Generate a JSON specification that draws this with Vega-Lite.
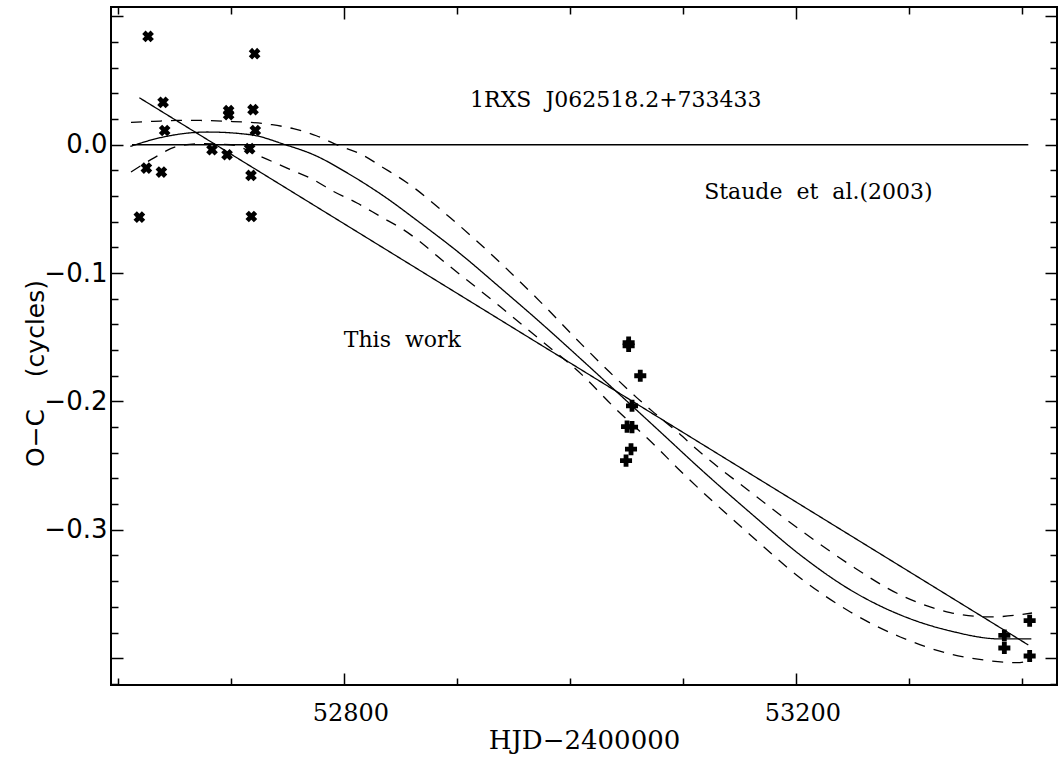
{
  "$schema": "https://vega.github.io/schema/vega-lite/v6.json",
  "width": 946,
  "height": 678,
  "autosize": {"type": "none"},
  "padding": {"left": 111, "top": 7, "right": 1, "bottom": 81},
  "background": "white",
  "config": {
    "view": {"stroke": "black", "strokeWidth": 2},
    "axis": {"domain": false, "grid": false, "tickColor": "black", "tickWidth": 1.5, "labelColor": "black", "titleColor": "black"}
  },
  "datasets": {
    "curves": [
      {"series": "zero", "style": "solid", "hjd": 52612.1, "oc": 0.0},
      {"series": "zero", "style": "solid", "hjd": 53405.3, "oc": 0.0},
      {"series": "linear", "style": "solid", "hjd": 52618.6, "oc": 0.0366},
      {"series": "linear", "style": "solid", "hjd": 53405.3, "oc": -0.3897},
      {"series": "quad", "style": "solid", "hjd": 52610.6, "oc": -0.0013},
      {"series": "quad", "style": "solid", "hjd": 52637.2, "oc": 0.0055},
      {"series": "quad", "style": "solid", "hjd": 52678.8, "oc": 0.0099},
      {"series": "quad", "style": "solid", "hjd": 52716.8, "oc": 0.0078},
      {"series": "quad", "style": "solid", "hjd": 52747.8, "oc": 0.0},
      {"series": "quad", "style": "solid", "hjd": 52772.8, "oc": -0.0078},
      {"series": "quad", "style": "solid", "hjd": 52805.3, "oc": -0.0234},
      {"series": "quad", "style": "solid", "hjd": 52834.5, "oc": -0.0398},
      {"series": "quad", "style": "solid", "hjd": 52867.3, "oc": -0.0610},
      {"series": "quad", "style": "solid", "hjd": 52902.7, "oc": -0.0850},
      {"series": "quad", "style": "solid", "hjd": 52938.1, "oc": -0.1115},
      {"series": "quad", "style": "solid", "hjd": 52973.5, "oc": -0.1385},
      {"series": "quad", "style": "solid", "hjd": 53008.8, "oc": -0.1665},
      {"series": "quad", "style": "solid", "hjd": 53039.8, "oc": -0.1915},
      {"series": "quad", "style": "solid", "hjd": 53079.6, "oc": -0.2237},
      {"series": "quad", "style": "solid", "hjd": 53115.0, "oc": -0.2525},
      {"series": "quad", "style": "solid", "hjd": 53159.3, "oc": -0.2868},
      {"series": "quad", "style": "solid", "hjd": 53203.5, "oc": -0.3196},
      {"series": "quad", "style": "solid", "hjd": 53247.8, "oc": -0.3468},
      {"series": "quad", "style": "solid", "hjd": 53292.0, "oc": -0.3663},
      {"series": "quad", "style": "solid", "hjd": 53336.3, "oc": -0.3788},
      {"series": "quad", "style": "solid", "hjd": 53380.5, "oc": -0.3850},
      {"series": "quad", "style": "solid", "hjd": 53408.0, "oc": -0.3850},
      {"series": "upper", "style": "dashed", "hjd": 52611.2, "oc": 0.0174},
      {"series": "upper", "style": "dashed", "hjd": 52631.0, "oc": 0.0182},
      {"series": "upper", "style": "dashed", "hjd": 52651.9, "oc": 0.0189},
      {"series": "upper", "style": "dashed", "hjd": 52672.6, "oc": 0.0189},
      {"series": "upper", "style": "dashed", "hjd": 52697.3, "oc": 0.0182},
      {"series": "upper", "style": "dashed", "hjd": 52716.8, "oc": 0.0174},
      {"series": "upper", "style": "dashed", "hjd": 52736.0, "oc": 0.0156},
      {"series": "upper", "style": "dashed", "hjd": 52754.9, "oc": 0.0125},
      {"series": "upper", "style": "dashed", "hjd": 52775.2, "oc": 0.0070},
      {"series": "upper", "style": "dashed", "hjd": 52794.7, "oc": -0.0005},
      {"series": "upper", "style": "dashed", "hjd": 52815.7, "oc": -0.0078},
      {"series": "upper", "style": "dashed", "hjd": 52834.5, "oc": -0.0179},
      {"series": "upper", "style": "dashed", "hjd": 52855.5, "oc": -0.0296},
      {"series": "upper", "style": "dashed", "hjd": 52893.8, "oc": -0.0569},
      {"series": "upper", "style": "dashed", "hjd": 52938.1, "oc": -0.0920},
      {"series": "upper", "style": "dashed", "hjd": 52973.5, "oc": -0.1224},
      {"series": "upper", "style": "dashed", "hjd": 53010.4, "oc": -0.1559},
      {"series": "upper", "style": "dashed", "hjd": 53034.5, "oc": -0.1769},
      {"series": "upper", "style": "dashed", "hjd": 53059.0, "oc": -0.1972},
      {"series": "upper", "style": "dashed", "hjd": 53074.3, "oc": -0.2089},
      {"series": "upper", "style": "dashed", "hjd": 53094.7, "oc": -0.2237},
      {"series": "upper", "style": "dashed", "hjd": 53112.4, "oc": -0.2377},
      {"series": "upper", "style": "dashed", "hjd": 53159.3, "oc": -0.2705},
      {"series": "upper", "style": "dashed", "hjd": 53203.5, "oc": -0.3001},
      {"series": "upper", "style": "dashed", "hjd": 53247.8, "oc": -0.3274},
      {"series": "upper", "style": "dashed", "hjd": 53292.0, "oc": -0.3507},
      {"series": "upper", "style": "dashed", "hjd": 53336.3, "oc": -0.3645},
      {"series": "upper", "style": "dashed", "hjd": 53371.7, "oc": -0.3679},
      {"series": "upper", "style": "dashed", "hjd": 53408.6, "oc": -0.3648},
      {"series": "lower", "style": "dashed", "hjd": 52611.2, "oc": -0.0213},
      {"series": "lower", "style": "dashed", "hjd": 52631.2, "oc": -0.0104},
      {"series": "lower", "style": "dashed", "hjd": 52651.9, "oc": -0.0013},
      {"series": "lower", "style": "dashed", "hjd": 52672.6, "oc": 0.0008},
      {"series": "lower", "style": "dashed", "hjd": 52699.1, "oc": 0.0},
      {"series": "lower", "style": "dashed", "hjd": 52725.7, "oc": -0.0091},
      {"series": "lower", "style": "dashed", "hjd": 52749.3, "oc": -0.0182},
      {"series": "lower", "style": "dashed", "hjd": 52772.8, "oc": -0.0273},
      {"series": "lower", "style": "dashed", "hjd": 52790.5, "oc": -0.0364},
      {"series": "lower", "style": "dashed", "hjd": 52811.2, "oc": -0.0454},
      {"series": "lower", "style": "dashed", "hjd": 52831.9, "oc": -0.0559},
      {"series": "lower", "style": "dashed", "hjd": 52852.5, "oc": -0.0663},
      {"series": "lower", "style": "dashed", "hjd": 52893.8, "oc": -0.0951},
      {"series": "lower", "style": "dashed", "hjd": 52938.1, "oc": -0.1263},
      {"series": "lower", "style": "dashed", "hjd": 52973.5, "oc": -0.1520},
      {"series": "lower", "style": "dashed", "hjd": 53010.4, "oc": -0.1793},
      {"series": "lower", "style": "dashed", "hjd": 53038.1, "oc": -0.2040},
      {"series": "lower", "style": "dashed", "hjd": 53075.2, "oc": -0.2346},
      {"series": "lower", "style": "dashed", "hjd": 53094.7, "oc": -0.2518},
      {"series": "lower", "style": "dashed", "hjd": 53159.3, "oc": -0.3040},
      {"series": "lower", "style": "dashed", "hjd": 53203.5, "oc": -0.3375},
      {"series": "lower", "style": "dashed", "hjd": 53247.8, "oc": -0.3640},
      {"series": "lower", "style": "dashed", "hjd": 53292.0, "oc": -0.3835},
      {"series": "lower", "style": "dashed", "hjd": 53336.3, "oc": -0.3967},
      {"series": "lower", "style": "dashed", "hjd": 53365.5, "oc": -0.4014},
      {"series": "lower", "style": "dashed", "hjd": 53395.3, "oc": -0.4035},
      {"series": "lower", "style": "dashed", "hjd": 53408.6, "oc": -0.4014}
    ],
    "staude": [
      {"hjd": 52626.3, "oc": 0.0844},
      {"hjd": 52720.6, "oc": 0.0709},
      {"hjd": 52639.6, "oc": 0.0330},
      {"hjd": 52697.6, "oc": 0.0265},
      {"hjd": 52697.6, "oc": 0.0234},
      {"hjd": 52719.2, "oc": 0.0273},
      {"hjd": 52641.0, "oc": 0.0111},
      {"hjd": 52721.2, "oc": 0.0111},
      {"hjd": 52682.9, "oc": -0.0039},
      {"hjd": 52696.2, "oc": -0.0078},
      {"hjd": 52716.2, "oc": -0.0031},
      {"hjd": 52624.8, "oc": -0.0182},
      {"hjd": 52638.1, "oc": -0.0213},
      {"hjd": 52717.4, "oc": -0.0239},
      {"hjd": 52618.6, "oc": -0.0564},
      {"hjd": 52717.7, "oc": -0.0559}
    ],
    "thiswork": [
      {"hjd": 53051.6, "oc": -0.1541},
      {"hjd": 53051.6, "oc": -0.1567},
      {"hjd": 53061.9, "oc": -0.1800},
      {"hjd": 53054.6, "oc": -0.2034},
      {"hjd": 53050.2, "oc": -0.2196},
      {"hjd": 53054.6, "oc": -0.2200},
      {"hjd": 53053.7, "oc": -0.2372},
      {"hjd": 53049.3, "oc": -0.2461},
      {"hjd": 53406.5, "oc": -0.3708},
      {"hjd": 53384.1, "oc": -0.3823},
      {"hjd": 53384.1, "oc": -0.3921},
      {"hjd": 53406.5, "oc": -0.3983}
    ],
    "labels": [
      {"hjd": 53040.3, "oc": 0.0351, "text": "1RXS\u00a0\u00a0J062518.2+733433", "size": 22},
      {"hjd": 53219.5, "oc": -0.0366, "text": "Staude\u00a0\u00a0et\u00a0\u00a0al.(2003)", "size": 22},
      {"hjd": 52851.3, "oc": -0.1520, "text": "This\u00a0\u00a0work", "size": 22}
    ]
  },
  "resolve": {"axis": {"x": "independent", "y": "independent"}},
  "layer": [
    {
      "data": {"name": "curves"},
      "mark": {"type": "line", "color": "black", "strokeWidth": 1.3, "interpolate": "monotone", "clip": true},
      "encoding": {
        "x": {
          "field": "hjd", "type": "quantitative",
          "scale": {"domain": [52593.5, 53430.7], "nice": false, "zero": false},
          "axis": {
            "orient": "bottom",
            "values": [52600, 52700, 52800, 52900, 53000, 53100, 53200, 53300, 53400],
            "tickSize": {"condition": {"test": "datum.value % 400 === 0", "value": -12}, "value": -7},
            "labelExpr": "datum.value % 400 === 0 ? datum.label : ''",
            "format": "d",
            "labelFont": "DejaVu Serif", "labelFontSize": 24, "labelPadding": 28, "labelOffset": 6,
            "title": "HJD−2400000", "titleFont": "DejaVu Serif", "titleFontSize": 26, "titleFontWeight": "normal",
            "titleY": 55, "titleBaseline": "middle"
          }
        },
        "y": {
          "field": "oc", "type": "quantitative",
          "scale": {"domain": [-0.4209, 0.1073], "nice": false, "zero": false},
          "axis": {
            "orient": "left",
            "values": [0.1, 0.08, 0.06, 0.04, 0.02, 0.0, -0.02, -0.04, -0.06, -0.08, -0.1, -0.12, -0.14, -0.16, -0.18, -0.2, -0.22, -0.24, -0.26, -0.28, -0.3, -0.32, -0.34, -0.36, -0.38, -0.4, -0.42],
            "tickSize": {"condition": {"test": "abs(datum.value * 10 - round(datum.value * 10)) < 0.001", "value": -12}, "value": -7},
            "labelExpr": "abs(datum.value * 10 - round(datum.value * 10)) < 0.001 && datum.value < 0.05 && datum.value > -0.35 ? datum.label : ''",
            "format": ".1f",
            "labelFont": "DejaVu Sans", "labelFontSize": 26, "labelPadding": 16,
            "title": "O−C\u00a0\u00a0\u00a0\u00a0(cycles)", "titleFont": "DejaVu Sans", "titleFontSize": 25, "titleFontWeight": "normal",
            "titleX": -76, "titleY": 366, "titleBaseline": "middle", "titleAlign": "center", "titleAngle": 270
          }
        },
        "detail": {"field": "series"},
        "strokeDash": {"field": "style", "type": "nominal", "scale": {"domain": ["solid", "dashed"], "range": [[1, 0], [11, 9]]}, "legend": null}
      }
    },
    {
      "data": {"name": "staude"},
      "mark": {"type": "point", "shape": "cross", "angle": 45, "filled": true, "color": "black", "size": 140, "opacity": 1},
      "encoding": {
        "x": {
          "field": "hjd", "type": "quantitative",
          "axis": {
            "orient": "top",
            "values": [52600, 52700, 52800, 52900, 53000, 53100, 53200, 53300, 53400],
            "tickSize": {"condition": {"test": "datum.value % 400 === 0", "value": -12}, "value": -7},
            "labels": false, "title": null
          }
        },
        "y": {
          "field": "oc", "type": "quantitative",
          "axis": {
            "orient": "right",
            "values": [0.1, 0.08, 0.06, 0.04, 0.02, 0.0, -0.02, -0.04, -0.06, -0.08, -0.1, -0.12, -0.14, -0.16, -0.18, -0.2, -0.22, -0.24, -0.26, -0.28, -0.3, -0.32, -0.34, -0.36, -0.38, -0.4, -0.42],
            "tickSize": {"condition": {"test": "abs(datum.value * 10 - round(datum.value * 10)) < 0.001", "value": -12}, "value": -7},
            "labels": false, "title": null
          }
        }
      }
    },
    {
      "data": {"name": "thiswork"},
      "mark": {"type": "point", "shape": "cross", "filled": true, "color": "black", "size": 145, "opacity": 1},
      "encoding": {
        "x": {"field": "hjd", "type": "quantitative", "axis": null},
        "y": {"field": "oc", "type": "quantitative", "axis": null}
      }
    },
    {
      "data": {"name": "labels"},
      "mark": {"type": "text", "font": "DejaVu Serif", "color": "black", "align": "center", "baseline": "middle"},
      "encoding": {
        "x": {"field": "hjd", "type": "quantitative", "axis": null},
        "y": {"field": "oc", "type": "quantitative", "axis": null},
        "text": {"field": "text"},
        "size": {"field": "size", "type": "quantitative", "scale": null}
      }
    }
  ]
}
